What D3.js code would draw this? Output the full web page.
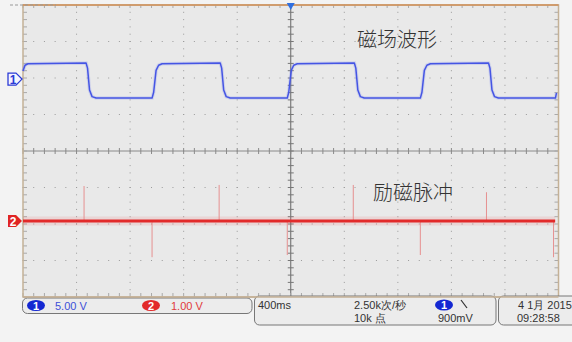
<!DOCTYPE html>
<html>
<head>
<meta charset="utf-8">
<script src="https://cdn.jsdelivr.net/npm/d3@7"></script>
<style>
  body { margin: 0; background: #f3f3f3; }
  svg { display: block; }
  text { font-family: "Liberation Sans", "DejaVu Sans", sans-serif; }
  .cjk { font-family: "Noto Sans CJK SC", sans-serif; }
</style>
</head>
<body>
<script>
// channel 1 (magnetic field), corner points [time ms, volts]
var ch1Points = [
  [0, 1.1], [15, 1.9], [37, 2.1], [471, 2.2], [482, 1.5], [497, -1.5], [516, -2.4], [546, -2.6],
  [964, -2.6], [976, -1.8], [994, 1.2], [1013, 1.9], [1039, 2.1], [1473, 2.2], [1484, 1.5], [1499, -1.5], [1518, -2.4], [1548, -2.6],
  [1974, -2.6], [1985, -1.8], [2004, 1.2], [2022, 1.9], [2049, 2.1], [2475, 2.2], [2486, 1.5], [2501, -1.5], [2520, -2.4], [2549, -2.6],
  [2968, -2.6], [2980, -1.8], [2998, 1.2], [3017, 1.9], [3043, 2.1], [3477, 2.2], [3488, 1.5], [3503, -1.5], [3522, -2.4], [3551, -2.6],
  [3977, -2.6], [3985, -1.9]
];
// channel 2 (excitation pulses), spikes [time ms, volts]
var ch2Pulses = [
  [456, 0.96], [964, -0.99], [1465, 0.99], [1974, -0.93],
  [2467, 0.99], [2968, -0.93], [3462, 0.79], [3963, -0.99]
];
var ch2End = 3975;

var ch1Scale = 5, ch2Scale = 1;        // volts per division
var ch1Offset = 1.97, ch2Offset = -1.92; // divisions
var timePerDiv = 400;

var labels = ["磁场波形", "励磁脉冲"];
var ch1Setting = "5.00 V", ch2Setting = "1.00 V";
var timebase = "400ms", sampleRate = "2.50k次/秒", recordLen = "10k 点";
var trigLevel = "900mV", dateText = "4 1月 2015", timeText = "09:28:58";

var width = 572, height = 342;

var svg = d3.select("body").append("svg")
    .attr("width", width)
    .attr("height", height);

var x = d3.scaleLinear().domain([0, 10 * timePerDiv]).range([23, 558.5]);
var y = d3.scaleLinear().domain([-4, 4]).range([297, 5]);

// plot background
svg.append("rect")
    .attr("x", x(0)).attr("y", y(4))
    .attr("width", x(4000) - x(0)).attr("height", y(-4) - y(4))
    .attr("fill", "#e9e9e9");

var grid = svg.append("g");

// dotted grid
d3.range(1, 10).filter(function(k) { return k != 5; }).forEach(function(k) {
  grid.selectAll(null)
    .data(d3.range(-4, 4.01, 0.2))
    .enter().append("rect")
    .attr("x", x(k * timePerDiv) - 0.5)
    .attr("y", function(d) { return y(d) - 0.5; })
    .attr("width", 1).attr("height", 1)
    .attr("fill", "#9a9a9a");
});
[-3, -2, -1, 1, 2, 3].forEach(function(k) {
  grid.selectAll(null)
    .data(d3.range(0, 4001, 80))
    .enter().append("rect")
    .attr("x", function(d) { return x(d) - 0.5; })
    .attr("y", y(k) - 0.5)
    .attr("width", 1).attr("height", 1)
    .attr("fill", "#9a9a9a");
});

// centre cross with minor ticks
grid.append("line")
    .attr("x1", x(2000)).attr("x2", x(2000))
    .attr("y1", y(4)).attr("y2", y(-4))
    .attr("stroke", "#666").attr("stroke-width", 1);
grid.append("line")
    .attr("x1", x(0)).attr("x2", x(4000))
    .attr("y1", y(0)).attr("y2", y(0))
    .attr("stroke", "#8a8a8a").attr("stroke-width", 1);
grid.selectAll(null)
    .data(d3.range(0, 4001, 80))
    .enter().append("line")
    .attr("x1", function(d) { return x(d); }).attr("x2", function(d) { return x(d); })
    .attr("y1", y(0) - 3).attr("y2", y(0) + 3)
    .attr("stroke", "#8a8a8a");
grid.selectAll(null)
    .data(d3.range(-4, 4.01, 0.2))
    .enter().append("line")
    .attr("x1", x(2000) - 3).attr("x2", x(2000) + 3)
    .attr("y1", function(d) { return y(d); }).attr("y2", function(d) { return y(d); })
    .attr("stroke", "#777");

// frame with ticks
var frameCol = "#c4b196";
grid.selectAll(null)
    .data(d3.range(-4, 4.01, 0.2))
    .enter().append("line")
    .attr("x1", x(0)).attr("x2", x(0) + 4)
    .attr("y1", function(d) { return y(d); }).attr("y2", function(d) { return y(d); })
    .attr("stroke", "#a9a9a9");
grid.selectAll(null)
    .data(d3.range(-4, 4.01, 0.2))
    .enter().append("line")
    .attr("x1", x(4000) - 4).attr("x2", x(4000))
    .attr("y1", function(d) { return y(d); }).attr("y2", function(d) { return y(d); })
    .attr("stroke", "#a9a9a9");
grid.selectAll(null)
    .data(d3.range(0, 4001, 80))
    .enter().append("line")
    .attr("x1", function(d) { return x(d); }).attr("x2", function(d) { return x(d); })
    .attr("y1", y(-4) - 4).attr("y2", y(-4))
    .attr("stroke", "#a9a9a9");
grid.selectAll(null)
    .data(d3.range(0, 4001, 80))
    .enter().append("line")
    .attr("x1", function(d) { return x(d); }).attr("x2", function(d) { return x(d); })
    .attr("y1", y(4)).attr("y2", y(4) + 3)
    .attr("stroke", "#a9a9a9");
grid.append("rect")
    .attr("x", x(0)).attr("y", y(4))
    .attr("width", x(4000) - x(0)).attr("height", y(-4) - y(4))
    .attr("fill", "none").attr("stroke", frameCol).attr("stroke-width", 1.5);
grid.append("line")
    .attr("x1", x(0)).attr("x2", x(4000))
    .attr("y1", y(4)).attr("y2", y(4))
    .attr("stroke", "#d0905a").attr("stroke-width", 1.5);
grid.append("line")
    .attr("x1", 10).attr("x2", 56)
    .attr("y1", y(4)).attr("y2", y(4))
    .attr("stroke", "#999").attr("stroke-dasharray", "3,2");

// channel 2 trace
var ch2Y = function(v) { return y(v / ch2Scale + ch2Offset); };
svg.append("line")
    .attr("x1", x(0)).attr("x2", x(ch2End))
    .attr("y1", ch2Y(0)).attr("y2", ch2Y(0))
    .attr("stroke", "#e66").attr("stroke-width", 9).attr("opacity", 0.15);
svg.selectAll(".pulse")
    .data(ch2Pulses)
    .enter().append("line")
    .attr("class", "pulse")
    .attr("x1", function(d) { return x(d[0]); }).attr("x2", function(d) { return x(d[0]); })
    .attr("y1", ch2Y(0)).attr("y2", function(d) { return ch2Y(d[1]); })
    .attr("stroke", "#e69090").attr("stroke-width", 1);
svg.append("line")
    .attr("x1", x(0)).attr("x2", x(ch2End))
    .attr("y1", ch2Y(0)).attr("y2", ch2Y(0))
    .attr("stroke", "#e22a2a").attr("stroke-width", 3);

// channel 1 trace
var line1 = d3.line()
    .x(function(d) { return x(d[0]); })
    .y(function(d) { return y(d[1] / ch1Scale + ch1Offset); });
svg.append("path")
    .datum(ch1Points)
    .attr("d", line1)
    .attr("fill", "none").attr("stroke", "#6a78ee").attr("stroke-width", 3.5).attr("opacity", 0.2);
svg.append("path")
    .datum(ch1Points)
    .attr("d", line1)
    .attr("fill", "none").attr("stroke", "#4555e4").attr("stroke-width", 1.5).attr("stroke-linejoin", "round");

// trigger position marker
svg.append("path")
    .attr("d", "M" + (x(2000) - 4) + ",3L" + (x(2000) + 4) + ",3L" + x(2000) + ",10Z")
    .attr("fill", "#2f6fe0");

// channel markers
var m1 = y(ch1Offset), m2 = y(ch2Offset);
svg.append("path")
    .attr("d", "M8," + (m1 - 6) + "L16," + (m1 - 6) + "L22," + m1 + "L16," + (m1 + 6) + "L8," + (m1 + 6) + "Z")
    .attr("fill", "#f4f4ff").attr("stroke", "#2b3bd6").attr("stroke-width", 1.3);
svg.append("text")
    .attr("x", 13).attr("y", m1 + 4.5)
    .attr("text-anchor", "middle").attr("font-size", 12).attr("font-weight", "bold")
    .attr("fill", "#2b3bd6").text("1");
svg.append("path")
    .attr("d", "M8," + (m2 - 6) + "L16," + (m2 - 6) + "L22," + m2 + "L16," + (m2 + 6) + "L8," + (m2 + 6) + "Z")
    .attr("fill", "#e02424");
svg.append("text")
    .attr("x", 13).attr("y", m2 + 4.5)
    .attr("text-anchor", "middle").attr("font-size", 12).attr("font-weight", "bold")
    .attr("fill", "#fff").text("2");

// annotations
svg.append("text").attr("class", "cjk")
    .attr("x", 357).attr("y", 47)
    .attr("font-size", 20).attr("font-weight", 300).attr("fill", "#333").text(labels[0]);
svg.append("text").attr("class", "cjk")
    .attr("x", 373).attr("y", 200)
    .attr("font-size", 20).attr("font-weight", 300).attr("fill", "#333").text(labels[1]);

// status bar
var bar = svg.append("g");
bar.append("rect").attr("x", 22.5).attr("y", 298).attr("width", 229.5).attr("height", 15.5)
    .attr("rx", 5).attr("fill", "#ececec").attr("stroke", "#777");
bar.append("rect").attr("x", 254.5).attr("y", 296).attr("width", 241.5).attr("height", 29)
    .attr("rx", 5).attr("fill", "#ececec").attr("stroke", "#777");
bar.append("rect").attr("x", 498.5).attr("y", 296).attr("width", 90).attr("height", 29)
    .attr("rx", 5).attr("fill", "#ececec").attr("stroke", "#777");
// redraw frame bottom over the boxes
bar.append("line")
    .attr("x1", x(0)).attr("x2", x(4000)).attr("y1", y(-4)).attr("y2", y(-4))
    .attr("stroke", frameCol).attr("stroke-width", 1.5);

function badge(cx, cy, fill, label) {
  bar.append("ellipse").attr("cx", cx).attr("cy", cy).attr("rx", 9).attr("ry", 5.5).attr("fill", fill);
  bar.append("text").attr("x", cx).attr("y", cy + 4)
      .attr("text-anchor", "middle").attr("font-size", 11).attr("font-weight", "bold")
      .attr("fill", "#fff").text(label);
}
badge(36, 305.5, "#1428d2", "1");
bar.append("text").attr("x", 55).attr("y", 309.5).attr("font-size", 11).attr("fill", "#3d4fd8").text(ch1Setting);
badge(151, 305.5, "#e22a2a", "2");
bar.append("text").attr("x", 171).attr("y", 309.5).attr("font-size", 11).attr("fill", "#e03a3a").text(ch2Setting);

bar.append("text").attr("x", 258).attr("y", 309).attr("font-size", 11).attr("fill", "#333").text(timebase);
bar.append("text").attr("x", 354).attr("y", 309).attr("font-size", 11).attr("fill", "#333").text(sampleRate);
bar.append("text").attr("x", 354).attr("y", 322).attr("font-size", 11).attr("fill", "#333").text(recordLen);
badge(444, 305, "#1428d2", "1");
bar.append("path").attr("d", "M461,300L467,308").attr("stroke", "#333").attr("stroke-width", 1.2);
bar.append("text").attr("x", 438).attr("y", 322).attr("font-size", 11).attr("fill", "#333").text(trigLevel);
bar.append("text").attr("x", 518).attr("y", 309).attr("font-size", 11).attr("fill", "#333").text(dateText);
bar.append("text").attr("x", 517).attr("y", 322).attr("font-size", 11).attr("fill", "#333").text(timeText);
</script>
</body>
</html>
